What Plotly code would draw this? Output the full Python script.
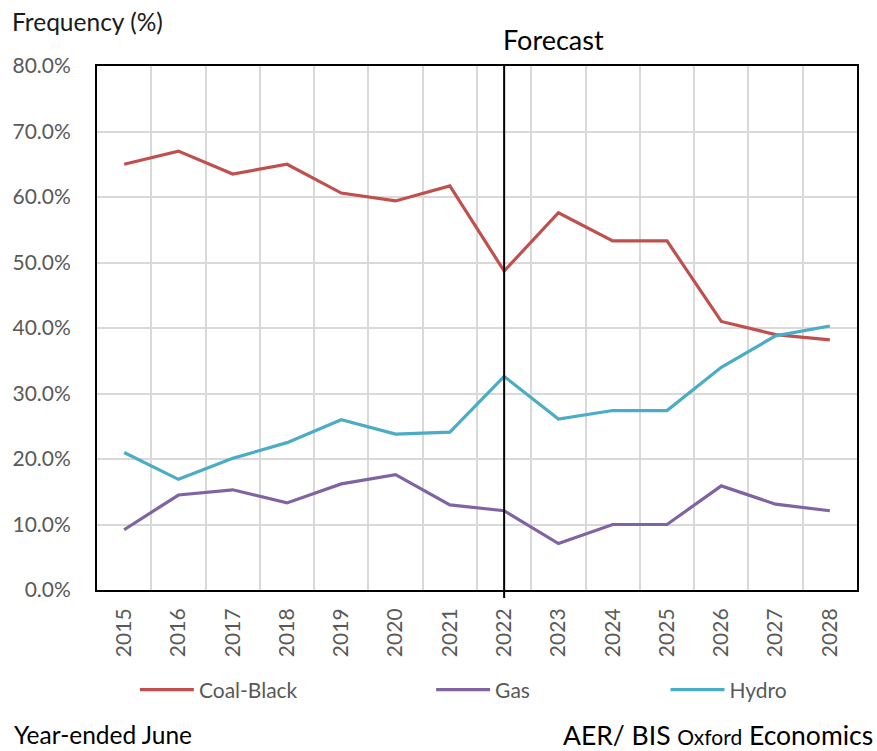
import plotly.graph_objects as go

# Share of dispatch intervals in which each fuel type sets the price (%)
years = [str(y) for y in range(2015, 2029)]
coal_black = [65.0, 67.0, 63.5, 65.0, 60.6, 59.4, 61.7, 48.7, 57.6, 53.3, 53.3, 41.0, 39.0, 38.2]
gas = [9.2, 14.5, 15.3, 13.3, 16.2, 17.6, 13.0, 12.1, 7.1, 10.0, 10.0, 15.9, 13.1, 12.1]
hydro = [21.0, 16.9, 20.1, 22.5, 26.0, 23.8, 24.1, 32.6, 26.1, 27.4, 27.4, 34.0, 38.8, 40.3]
y_ticks = [0, 10, 20, 30, 40, 50, 60, 70, 80]
forecast_start = "2022"

FONT = "Lato"
W, H = 877, 751
M_L, M_R, M_T, M_B = 95, 20, 66, 161
plot_w = W - M_L - M_R
plot_h = H - M_T - M_B


def px_x(px):
    return (px - M_L) / plot_w


def px_y(py):
    return (H - M_B - py) / plot_h


series = [
    ("Coal-Black", coal_black, "#C0504D", "legend", 138),
    ("Gas", gas, "#8064A2", "legend2", 435),
    ("Hydro", hydro, "#4BACC6", "legend3", 670),
]

fig = go.Figure()
legend_layout = {}
for name, vals, color, leg, leg_px in series:
    fig.add_trace(go.Scatter(
        x=years, y=vals, name=name, mode="lines",
        line=dict(color=color, width=3.2),
        legend=leg, showlegend=True,
        hovertemplate="%{x}: %{y:.1f}%<extra>" + name + "</extra>",
    ))
    legend_layout[leg] = dict(
        x=px_x(leg_px - 5), y=px_y(690), xanchor="left", yanchor="middle",
        orientation="h", bgcolor="rgba(0,0,0,0)", itemwidth=54,
        font=dict(family=FONT, size=21, color="#595959"),
        visible=True,
    )

# Vertical marker separating history from forecast
fig.add_shape(
    type="line", xref="x", yref="paper",
    x0=years.index(forecast_start), x1=years.index(forecast_start),
    y0=px_y(598), y1=1, line=dict(color="black", width=2),
)

fig.add_annotation(
    text="Forecast", xref="x", yref="paper",
    x=years.index(forecast_start), y=px_y(40), xanchor="left", yanchor="middle",
    xshift=-3, showarrow=False, font=dict(family=FONT, size=27, color="black"),
)
fig.add_annotation(
    text="Frequency (%)", xref="paper", yref="paper",
    x=px_x(8), y=px_y(21), xanchor="left", yanchor="middle",
    showarrow=False, font=dict(family=FONT, size=24.5, color="#1a1a1a"),
)
fig.add_annotation(
    text="Year-ended June", xref="paper", yref="paper",
    x=px_x(10), y=px_y(735), xanchor="left", yanchor="middle",
    showarrow=False, font=dict(family=FONT, size=24.5, color="black"),
)
fig.add_annotation(
    text="AER/ BIS <span style='font-size:21px'>Oxford</span> Economics",
    xref="paper", yref="paper",
    x=px_x(875), y=px_y(735), xanchor="right", yanchor="middle",
    showarrow=False, font=dict(family=FONT, size=26.5, color="black"),
)

fig.update_layout(
    width=W, height=H,
    margin=dict(l=M_L, r=M_R, t=M_T, b=M_B),
    paper_bgcolor="white", plot_bgcolor="white",
    font=dict(family=FONT, size=21, color="#595959"),
    hovermode="closest", showlegend=True,
    **legend_layout,
)

fig.update_xaxes(
    type="category", categoryorder="array", categoryarray=years,
    range=[-0.5, len(years) - 0.5],
    tickson="boundaries", ticks="", tickangle=-90,
    showgrid=True, gridcolor="#D9D9D9", gridwidth=2,
    showline=True, linecolor="black", linewidth=2, mirror=True,
    tickfont=dict(family=FONT, size=21, color="#595959"),
    ticklabelstandoff=8,
)
fig.update_yaxes(
    range=[0, 80], tickvals=y_ticks,
    ticktext=[f"{v:.1f}%" for v in y_ticks],
    showgrid=True, gridcolor="#D9D9D9", gridwidth=2,
    showline=True, linecolor="black", linewidth=2, mirror=True,
    zeroline=False, ticks="",
    tickfont=dict(family=FONT, size=21, color="#595959"),
    ticklabelstandoff=20,
)

fig.write_html("out.html")
